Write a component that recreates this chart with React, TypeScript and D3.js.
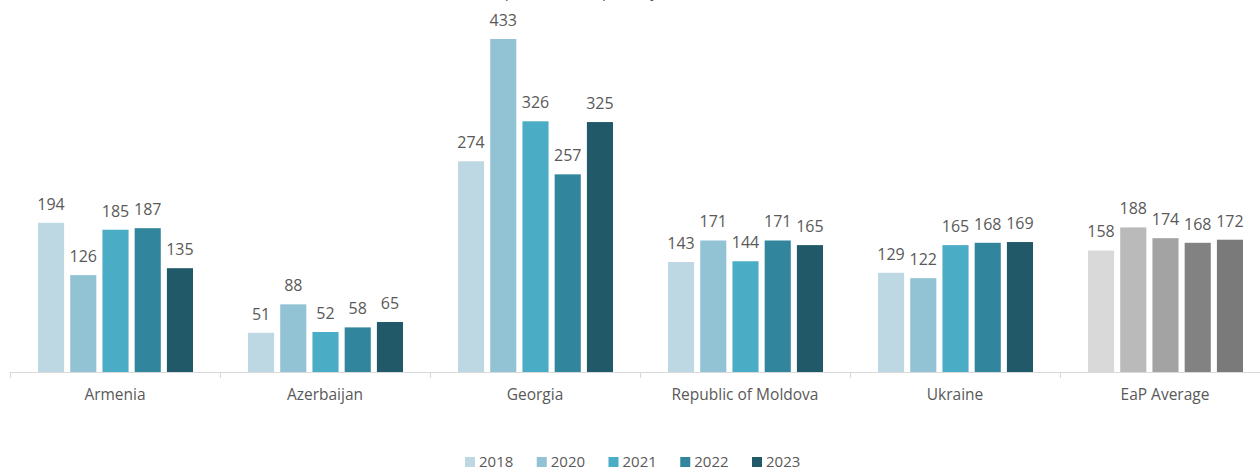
import React from "react";
import * as d3 from "d3";

const categories = ["Armenia", "Azerbaijan", "Georgia", "Republic of Moldova", "Ukraine", "EaP Average"];
const years = ["2018", "2020", "2021", "2022", "2023"];
const v2018 = [194, 51, 274, 143, 129, 158];
const v2020 = [126, 88, 433, 171, 122, 188];
const v2021 = [185, 52, 326, 144, 165, 174];
const v2022 = [187, 58, 257, 171, 168, 168];
const v2023 = [135, 65, 325, 165, 169, 172];
const seriesValues = [v2018, v2020, v2021, v2022, v2023];
const colors = ["#BDD7E3", "#92C3D4", "#4BACC6", "#31859C", "#215968"];
const avgColors = ["#D9D9D9", "#BABABA", "#A3A3A3", "#828282", "#7A7A7A"];
const titleFragment = "Number per 100 000 (per day)";

const W = 1260;
const H = 470;
const FONT = "'Open Sans', 'DejaVu Sans', sans-serif";

export default function App() {
  const x0 = d3.scaleBand<string>().domain(categories).range([10, 1270]).paddingInner(0).paddingOuter(0);
  const x1 = d3.scaleBand<string>().domain(years).range([28, 183]).paddingInner(0.19).paddingOuter(0);
  const y = d3.scaleLinear().domain([0, 433]).range([372, 39]);
  const legendX = d3.scaleLinear().domain([0, 4]).range([465, 752]);

  return (
    <svg width={W} height={H} style={{ position: "absolute", left: 0, top: 0, background: "#fff" }} fontFamily={FONT}>
      <text x={663} y={-3} textAnchor="end" fontSize={16} fill="#595959">{titleFragment}</text>
      {categories.map((c, ci) => (
        <g key={c} transform={`translate(${x0(c)},0)`}>
          {years.map((yr, si) => {
            const v = seriesValues[si][ci];
            const bx = x1(yr)!;
            const bw = x1.bandwidth();
            const fill = ci === categories.length - 1 ? avgColors[si] : colors[si];
            return (
              <g key={yr}>
                <rect x={bx} y={y(v)} width={bw} height={372 - y(v)} fill={fill} />
                <text x={bx + bw / 2} y={y(v) - 13} textAnchor="middle" fontSize={16} fill="#595959">{v}</text>
              </g>
            );
          })}
          <text x={x0.bandwidth() / 2} y={400} textAnchor="middle" fontSize={15.5} fill="#595959">{c}</text>
        </g>
      ))}
      <line x1={10} x2={W} y1={372.5} y2={372.5} stroke="#D9D9D9" strokeWidth={1.2} />
      {categories.map((c) => (
        <line key={c} x1={x0(c)! + 0.5} x2={x0(c)! + 0.5} y1={372} y2={378} stroke="#D9D9D9" strokeWidth={1.2} />
      ))}
      {years.map((yr, i) => (
        <g key={yr} transform={`translate(${legendX(i)},0)`}>
          <rect x={0} y={457} width={10} height={10} fill={colors[i]} />
          <text x={14} y={467} fontSize={15} fill="#595959">{yr}</text>
        </g>
      ))}
    </svg>
  );
}
